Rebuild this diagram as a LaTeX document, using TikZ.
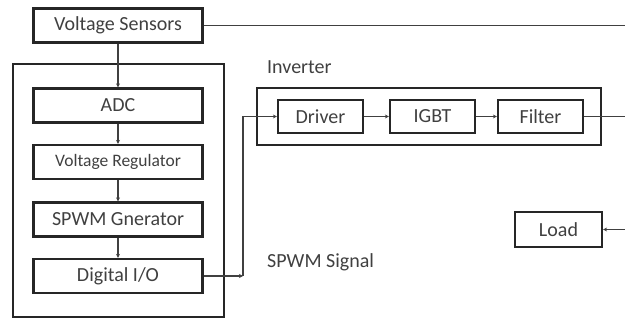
\documentclass[tikz,border=0pt]{standalone}
\usepackage{fontspec}
\setmainfont{Carlito}
\usetikzlibrary{arrows.meta}
\definecolor{boxc}{gray}{0.15}
\definecolor{linec}{gray}{0.25}
\definecolor{txtc}{gray}{0.25}
\begin{document}
\begin{tikzpicture}[x=1pt,y=-1pt,
  blk/.style={draw=boxc, line width=2.2pt, minimum width=169pt, minimum height=34pt,
    inner sep=0pt, text=txtc, font=\fontsize{20}{24}\selectfont},
  frame/.style={draw=boxc, line width=2.2pt, inner sep=0pt},
  conn/.style={draw=linec, line width=1.1pt},
  arr/.style={conn, -{Stealth[length=4pt,width=4pt]}},
  lbl/.style={text=txtc, font=\fontsize{20}{24}\selectfont, inner sep=0pt, anchor=west}]
\useasboundingbox (0,0) rectangle (625,320);
% left controller block
\node[frame, minimum width=211pt, minimum height=253pt] (dsp) at (118.5,190.5) {};
\node[blk] (vs) at (118,25.5) {Voltage Sensors};
\node[blk] (adc) at (118,105.5) {ADC};
\node[blk, font=\fontsize{17.5}{20}\selectfont] (vreg) at (118,162) {Voltage Regulator};
\node[blk] (spwm) at (118,219.5) {SPWM Gnerator};
\node[blk] (dio) at (118,276) {Digital I/O};
% inverter
\node[lbl] (invl) at (267,67) {Inverter};
\node[frame, minimum width=344pt, minimum height=57pt] (inv) at (429,116.5) {};
\node[blk, minimum width=85pt, minimum height=33pt] (driver) at (320.5,116.5) {Driver};
\node[blk, minimum width=85pt, minimum height=33pt] (igbt) at (432.5,116.5) {IGBT};
\node[blk, minimum width=85pt, minimum height=33pt] (filter) at (540.5,116.5) {Filter};
\node[blk, minimum width=87pt, minimum height=35pt] (load) at (558.5,229.5) {Load};
\node[lbl] (sig) at (267,262) {SPWM Signal};
% free ends
\coordinate (vsE) at (626,25.5);
\coordinate (fE) at (626,116.5);
\coordinate (ldE) at (626,229.5);
\coordinate (j) at (243,276);
% connectors
\draw[conn] (vs.east) -- (vsE);
\draw[arr] (vs) -- (adc);
\draw[arr] (adc) -- (vreg);
\draw[arr] (vreg) -- (spwm);
\draw[arr] (spwm) -- (dio);
\draw[arr] (dio.east) -- (j);
\draw[arr] (j) |- (driver.west);
\draw[arr] (driver) -- (igbt);
\draw[arr] (igbt) -- (filter);
\draw[conn] (filter.east) -- (fE);
\draw[arr] (ldE) -- (load.east);
\end{tikzpicture}
\end{document}
